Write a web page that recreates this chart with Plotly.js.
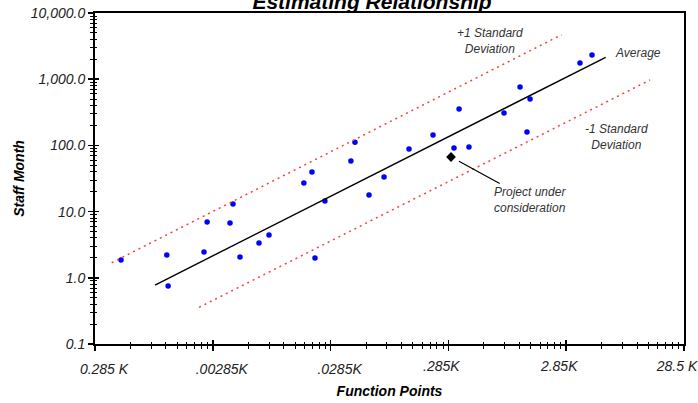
<!DOCTYPE html>
<html>
<head>
<meta charset="utf-8">
<script src="https://cdn.plot.ly/plotly-3.0.1.min.js"></script>
<style>html,body{margin:0;padding:0;background:#fff;}#chart{width:698px;height:403px;}</style>
</head>
<body>
<div id="chart"></div>
<script>
// ---- data ----
const fpX = [0.474, 1.16, 1.19, 2.40, 2.55, 3.99, 4.23, 4.85, 7.03, 8.55, 16.9, 19.8, 21.0, 25.5, 42.4, 45.9, 60.4, 81.0, 132, 211, 318, 351, 426, 845, 1156, 1324, 1406, 3731, 4719];
const staffY = [1.86, 2.21, 0.75, 2.45, 6.97, 6.73, 13.0, 2.06, 3.36, 4.43, 27.0, 39.6, 1.99, 14.5, 58.1, 112, 17.8, 33.3, 88.3, 144, 91.3, 355, 94.6, 309, 762, 159, 502, 1758, 2321];
const projX = [300];
const projY = [66.8];
const avgX = [0.921, 6165];
const avgY = [0.778, 2143];
const plusX = [0.395, 2611];
const plusY = [1.69, 4699];
const minusX = [2.18, 14650];
const minusY = [0.358, 972];
const xTickVals = [0.285, 2.85, 28.5, 285, 2850, 28500];
const xTickText = ['0.285 K', '.00285K', '.0285K', '.285K', '2.85K', '28.5 K'];
const yTickVals = [0.1, 1, 10, 100, 1000, 10000];
const yTickText = ['0.1', '1.0', '10.0', '100.0', '1,000.0', '10,000.0'];
const minorMult = [2, 3, 4, 5, 6, 7, 8, 9];

const xMinor = [];
xTickVals.slice(0, -1).forEach(v => minorMult.forEach(m => xMinor.push(v * m)));
const yMinor = [];
yTickVals.slice(0, -1).forEach(v => minorMult.forEach(m => yMinor.push(v * m)));
// labels split over two overlaid axes so each group can sit where the reference puts it
const xTextLeft = xTickText.map((t, i) => i < 3 ? t : '');
const xTextRight = xTickText.map((t, i) => i >= 3 ? t : '');

const FONT = 'Liberation Sans, Arial, sans-serif';
const xRange = [Math.log10(xTickVals[0]), Math.log10(xTickVals[xTickVals.length - 1])];
const yRange = [Math.log10(yTickVals[0]), Math.log10(yTickVals[yTickVals.length - 1])];

const traces = [
  {x: plusX, y: plusY, xaxis: 'x2', yaxis: 'y2', mode: 'lines',
   line: {color: '#ff3b3b', width: 1.5, dash: '2px,4px'}, hoverinfo: 'skip'},
  {x: minusX, y: minusY, xaxis: 'x2', yaxis: 'y2', mode: 'lines',
   line: {color: '#ff3b3b', width: 1.5, dash: '2px,4px'}, hoverinfo: 'skip'},
  {x: avgX, y: avgY, xaxis: 'x2', yaxis: 'y2', mode: 'lines',
   line: {color: '#000', width: 1.4}, hoverinfo: 'skip'},
  {x: fpX, y: staffY, mode: 'markers', marker: {color: '#0000ff', size: 5.5, symbol: 'circle'}},
  {x: projX, y: projY, mode: 'markers', marker: {color: '#000', size: 7.5, symbol: 'diamond'}}
];

const tickFont = {family: FONT, size: 14, color: '#222', style: 'italic'};
const baseX = {type: 'log', range: xRange, showgrid: false, zeroline: false};
const baseY = {type: 'log', range: yRange, showgrid: false, zeroline: false};

const layout = {
  width: 698, height: 403,
  margin: {l: 95, r: 14, t: 13, b: 59},
  paper_bgcolor: '#fff', plot_bgcolor: '#fff',
  showlegend: false,
  font: {family: FONT, color: '#222'},
  title: {text: 'Estimating Relationship', font: {family: FONT, size: 21, color: '#000', weight: 'bold', style: 'italic'},
          xref: 'container', x: 0.533, xanchor: 'center', yref: 'paper', y: 1, yanchor: 'bottom', pad: {b: 4}},
  xaxis: Object.assign({}, baseX, {
    tickmode: 'array', tickvals: xTickVals, ticktext: xTextLeft,
    ticks: 'outside', ticklen: 5, tickwidth: 1.5, tickcolor: '#000',
    minor: {tickmode: 'array', tickvals: xMinor, ticks: 'outside', ticklen: 3, tickwidth: 1, tickcolor: '#000'},
    showline: true, linecolor: '#000', linewidth: 2, mirror: true,
    tickfont: Object.assign({}, tickFont), ticklabelshift: 9, ticklabelstandoff: 6,
    title: {text: 'Function Points', font: {family: FONT, size: 14, color: '#000', weight: 'bold', style: 'italic'}, standoff: 10}
  }),
  yaxis: Object.assign({}, baseY, {
    tickmode: 'array', tickvals: yTickVals, ticktext: yTickText,
    ticks: 'outside', ticklen: 5, tickwidth: 1.5, tickcolor: '#000',
    minor: {tickmode: 'array', tickvals: yMinor, ticks: 'outside', ticklen: 3, tickwidth: 1, tickcolor: '#000'},
    showline: true, linecolor: '#000', linewidth: 2, mirror: true,
    tickfont: Object.assign({}, tickFont),
    title: {text: 'Staff Month', font: {family: FONT, size: 14, color: '#000', weight: 'bold', style: 'italic'}, standoff: 3}
  }),
  xaxis2: Object.assign({}, baseX, {
    overlaying: 'x', anchor: 'y2', side: 'bottom',
    tickmode: 'array', tickvals: xTickVals, ticktext: xTextRight, showticklabels: true,
    tickfont: Object.assign({}, tickFont), ticklabelshift: -7, ticklabelstandoff: 12,
    ticklabeloverflow: 'allow',
    ticks: 'inside', ticklen: 4, tickwidth: 1.5, tickcolor: '#000',
    minor: {tickmode: 'array', tickvals: xMinor, ticks: 'inside', ticklen: 2, tickwidth: 1, tickcolor: '#000'},
    showline: false
  }),
  yaxis2: Object.assign({}, baseY, {
    overlaying: 'y', anchor: 'x2', side: 'left',
    tickmode: 'array', tickvals: yTickVals, showticklabels: false,
    ticks: 'inside', ticklen: 4, tickwidth: 1.5, tickcolor: '#000',
    minor: {tickmode: 'array', tickvals: yMinor, ticks: 'inside', ticklen: 2, tickwidth: 1, tickcolor: '#000'},
    showline: false
  }),
  annotations: [
    {text: '+1 Standard<br>Deviation', xref: 'paper', yref: 'paper', x: 0.671, y: 0.915,
     xanchor: 'center', yanchor: 'middle',
     showarrow: false, font: {family: FONT, size: 12, color: '#333', style: 'italic'}},
    {text: 'Average', xref: 'paper', yref: 'paper', x: 0.8795, y: 0.879, xanchor: 'left', yanchor: 'middle',
     showarrow: false, font: {family: FONT, size: 12, color: '#333', style: 'italic'}},
    {text: '-1 Standard<br>Deviation', xref: 'paper', yref: 'paper', x: 0.886, y: 0.625,
     xanchor: 'center', yanchor: 'middle',
     showarrow: false, font: {family: FONT, size: 12, color: '#333', style: 'italic'}},
    {text: 'Project under<br>consideration', xref: 'x', yref: 'y',
     x: Math.log10(projX[0]), y: Math.log10(projY[0]),
     showarrow: true, arrowhead: 0, arrowwidth: 1.2, arrowcolor: '#000', standoff: 9,
     ax: 79, ay: 43, font: {family: FONT, size: 12, color: '#333', style: 'italic'}}
  ]
};

Plotly.newPlot('chart', traces, layout, {displayModeBar: false, staticPlot: true});
</script>
</body>
</html>
